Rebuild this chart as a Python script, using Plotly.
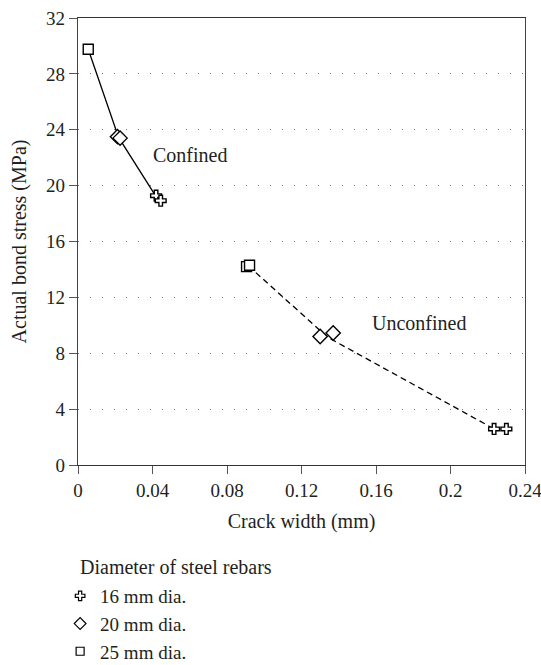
import plotly.graph_objects as go

# Data
d16_x = [0.0419, 0.0444, 0.2234, 0.2300]
d16_y = [19.28, 18.92, 2.58, 2.58]
d20_x = [0.0212, 0.0226, 0.1300, 0.1370]
d20_y = [23.50, 23.40, 9.20, 9.45]
d25_x = [0.0055, 0.0905, 0.0921]
d25_y = [29.76, 14.20, 14.30]

conf_x = [0.0055, 0.0218, 0.0415]
conf_y = [29.76, 23.45, 19.30]
unconf_x = [0.0915, 0.1340, 0.2225]
unconf_y = [14.25, 9.15, 2.65]

series_names = ["16 mm dia.", "20 mm dia.", "25 mm dia."]
x_ticks = [0, 0.04, 0.08, 0.12, 0.16, 0.2, 0.24]
x_tick_labels = ["0", "0.04", "0.08", "0.12", "0.16", "0.2", "0.24"]
y_ticks = [0, 4, 8, 12, 16, 20, 24, 28, 32]

FONT = "'Liberation Serif', 'Times New Roman', serif"
TXT = "#231f20"

fig = go.Figure()
fig.add_trace(go.Scatter(x=conf_x, y=conf_y, mode="lines",
                         line=dict(color="black", width=1.3), showlegend=False, hoverinfo="skip"))
fig.add_trace(go.Scatter(x=unconf_x, y=unconf_y, mode="lines",
                         line=dict(color="black", width=1.3, dash="6px,4px"), showlegend=False, hoverinfo="skip"))

symbols = ["cross", "diamond", "square"]
sizes = [9, 11, 10]
leg_sizes = [8, 9, 8]
for xs, ys, name, sym, sz, lsz in zip([d16_x, d20_x, d25_x], [d16_y, d20_y, d25_y],
                                      series_names, symbols, sizes, leg_sizes):
    fig.add_trace(go.Scatter(x=xs, y=ys, mode="markers", name=name, showlegend=False,
                             marker=dict(symbol=sym, size=sz, color="white",
                                         line=dict(color="black", width=1.4))))
    fig.add_trace(go.Scatter(x=[None], y=[None], mode="markers", name=name,
                             marker=dict(symbol=sym, size=lsz, color="white",
                                         line=dict(color="black", width=1.2))))

fig.add_annotation(x=0.0601, y=22.2, text="Confined", showarrow=False,
                   font=dict(family=FONT, size=20, color=TXT))
fig.add_annotation(x=0.183, y=10.15, text="Unconfined", showarrow=False,
                   font=dict(family=FONT, size=20, color=TXT))
fig.add_annotation(xref="paper", yref="paper", x=0, y=(465 - 567) / 447,
                   xanchor="left", yanchor="middle", showarrow=False,
                   text="Diameter of steel rebars", font=dict(family=FONT, size=20, color=TXT))

fig.update_layout(
    width=541, height=665,
    margin=dict(l=78, r=16, t=18, b=200, autoexpand=False),
    plot_bgcolor="white", paper_bgcolor="white",
    font=dict(family=FONT, size=20, color=TXT),
    xaxis=dict(range=[0, 0.24], tickvals=x_ticks, ticktext=x_tick_labels,
               showgrid=False, zeroline=False, automargin=False,
               ticklabeloverflow="allow",
               showline=True, linecolor="#333", linewidth=1.3, mirror=True,
               ticks="outside", ticklen=8, tickcolor="#555", tickwidth=1.3,
               tickfont=dict(size=19),
               title=dict(text="Crack width (mm)", standoff=14, font=dict(size=20))),
    yaxis=dict(range=[0, 32], tickvals=y_ticks,
               showgrid=True, gridcolor="#777", gridwidth=1, griddash="1px,11px",
               zeroline=False, automargin=False,
               ticklabeloverflow="allow",
               showline=True, linecolor="#444", linewidth=1.3, mirror=True,
               ticks="outside", ticklen=8, tickcolor="#555", tickwidth=1.3,
               tickfont=dict(size=19),
               title=dict(text="Actual bond stress (MPa)", standoff=14, font=dict(size=20))),
    legend=dict(x=-0.040, y=(465 - 577) / 447, xanchor="left", yanchor="top",
                font=dict(size=19), itemwidth=30, tracegroupgap=0,
                bgcolor="rgba(0,0,0,0)"),
)

# remove the default page margin so the 541x665 figure fills the window exactly
fig.write_html("out.html", config={"displayModeBar": False},
               post_script="document.body.style.margin='0';document.body.style.overflow='hidden';")
